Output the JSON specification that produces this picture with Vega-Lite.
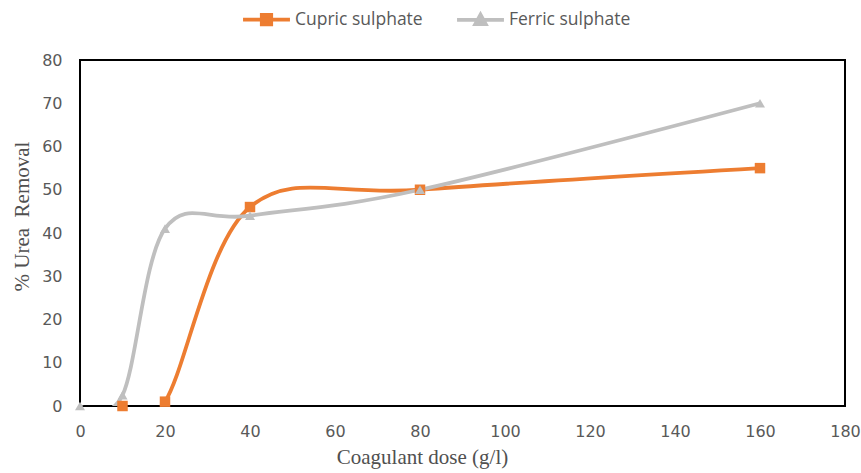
{
  "$schema": "https://vega.github.io/schema/vega-lite/v6.json",
  "width": 765,
  "height": 346,
  "autosize": "none",
  "padding": {"left": 80, "top": 60, "right": 16, "bottom": 67},
  "background": "white",
  "config": {
    "view": {"stroke": "#000000", "strokeWidth": 2},
    "font": "DejaVu Sans"
  },
  "data": {
    "values": [
      {"series": "Cupric sulphate", "dose": 10, "removal": 0},
      {"series": "Cupric sulphate", "dose": 20, "removal": 1},
      {"series": "Cupric sulphate", "dose": 40, "removal": 46},
      {"series": "Cupric sulphate", "dose": 80, "removal": 50},
      {"series": "Cupric sulphate", "dose": 160, "removal": 55},
      {"series": "Ferric sulphate", "dose": 0, "removal": 0},
      {"series": "Ferric sulphate", "dose": 10, "removal": 2.5},
      {"series": "Ferric sulphate", "dose": 20, "removal": 41},
      {"series": "Ferric sulphate", "dose": 40, "removal": 44},
      {"series": "Ferric sulphate", "dose": 80, "removal": 50},
      {"series": "Ferric sulphate", "dose": 160, "removal": 70}
    ]
  },
  "encoding": {
    "x": {
      "field": "dose",
      "type": "quantitative",
      "scale": {"domain": [0, 180], "nice": false},
      "axis": {
        "title": "Coagulant dose (g/l)",
        "titleFont": "Liberation Serif",
        "titleFontSize": 21,
        "titleFontWeight": "normal",
        "titleColor": "#505050",
        "titleX": 342,
        "titleY": 57,
        "titleAlign": "center",
        "titleBaseline": "alphabetic",
        "values": [0, 20, 40, 60, 80, 100, 120, 140, 160, 180],
        "domain": false,
        "ticks": false,
        "grid": false,
        "labelFlush": false,
        "labelFontSize": 16,
        "labelColor": "#595959",
        "labelPadding": 17
      }
    },
    "y": {
      "field": "removal",
      "type": "quantitative",
      "scale": {"domain": [0, 80], "nice": false},
      "axis": {
        "title": "% Urea\u00a0 Removal",
        "titleFont": "Liberation Serif",
        "titleFontSize": 21,
        "titleFontWeight": "normal",
        "titleColor": "#505050",
        "titleX": -52,
        "titleY": 156,
        "titleAngle": -90,
        "titleAlign": "center",
        "titleBaseline": "alphabetic",
        "values": [0, 10, 20, 30, 40, 50, 60, 70, 80],
        "domain": false,
        "ticks": false,
        "grid": false,
        "labelFlush": false,
        "labelFontSize": 16,
        "labelColor": "#595959",
        "labelPadding": 18
      }
    }
  },
  "layer": [
    {
      "mark": {"type": "line", "interpolate": "cardinal", "strokeWidth": 3.8, "clip": true},
      "encoding": {
        "color": {
          "field": "series",
          "type": "nominal",
          "scale": {"domain": ["Cupric sulphate", "Ferric sulphate"], "range": ["#ED7D31", "#BFBFBF"]}
        }
      }
    },
    {
      "mark": {"type": "point", "filled": true, "opacity": 1, "strokeWidth": 3.8},
      "transform": [{"filter": "false"}],
      "encoding": {
        "color": {
          "field": "series",
          "type": "nominal",
          "scale": {"domain": ["Cupric sulphate", "Ferric sulphate"], "range": ["#ED7D31", "#BFBFBF"]},
          "legend": {
            "title": null,
            "orient": "none",
            "legendX": 161,
            "legendY": -66,
            "direction": "horizontal",
            "columns": 2,
            "columnPadding": 26,
            "symbolSize": 2200,
            "symbolOffset": 0,
            "symbolStrokeWidth": 3.8,
            "symbolOpacity": 1,
            "labelFontSize": 17.5,
            "labelColor": "#595959",
            "labelFont": "Open Sans",
            "labelOffset": 3
          }
        },
        "stroke": {
          "field": "series",
          "type": "nominal",
          "scale": {"domain": ["Cupric sulphate", "Ferric sulphate"], "range": ["#ED7D31", "#BFBFBF"]}
        },
        "shape": {
          "field": "series",
          "type": "nominal",
          "scale": {
            "domain": ["Cupric sulphate", "Ferric sulphate"],
            "range": ["M-1,0H1M-0.2,-0.2H0.2V0.2H-0.2Z", "M-1,0H1M0,-0.22L0.22,0.18H-0.22Z"]
          }
        }
      }
    },
    {
      "mark": {"type": "point", "filled": true, "opacity": 1, "size": 110, "shape": "square", "color": "#ED7D31"},
      "transform": [{"filter": "datum.series === 'Cupric sulphate'"}],
      "encoding": {}
    },
    {
      "mark": {"type": "point", "filled": true, "opacity": 1, "size": 100, "shape": "triangle-up", "color": "#BFBFBF"},
      "transform": [{"filter": "datum.series === 'Ferric sulphate'"}],
      "encoding": {}
    }
  ]
}
